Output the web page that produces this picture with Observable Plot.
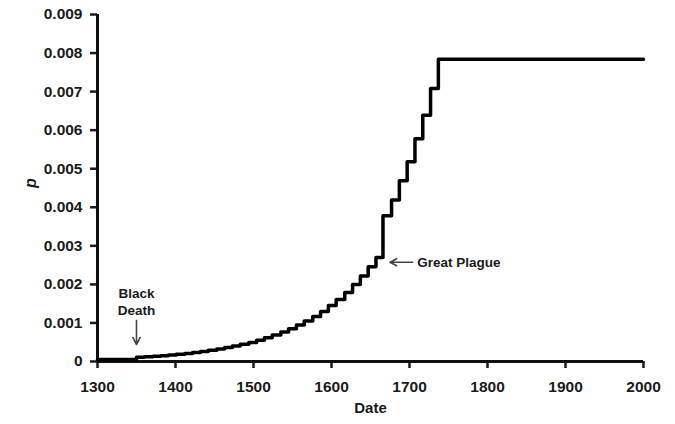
<!DOCTYPE html>
<html>
<head>
<meta charset="utf-8">
<script src="https://cdn.jsdelivr.net/npm/d3@7"></script>
<script src="https://cdn.jsdelivr.net/npm/@observablehq/plot@0.6"></script>
<style>
  html, body { margin: 0; padding: 0; background: #fff; }
  #chart svg { display: block; }
</style>
</head>
<body>
<div id="chart"></div>
<script>
// Step years (start of each step) and allele frequency p after each step
const stepYears = [1300,
  1350,1360,1371,1381,1391,1401,1412,1422,1432,1442,
  1453,1463,1473,1483,1494,1504,1514,1524,1535,1545,
  1555,1565,1576,1586,1596,1606,1617,1627,1637,1647,
  1657,1666,1677,1687,1697,1707,1717,1727,1737,2000];
const pValues = [0.00005,
  0.00011,0.000122,0.000136,0.000152,0.000169,0.000188,0.000209,0.000233,0.00026,0.00029,
  0.000323,0.00036,0.0004,0.000445,0.000496,0.000552,0.000615,0.000685,0.000763,0.00085,
  0.000945,0.00105,0.00117,0.0013,0.00145,0.00161,0.00179,0.002,0.00222,0.00246,
  0.0027,0.00378,0.00419,0.00469,0.00518,0.00578,0.00639,0.00708,0.00784,0.00784];
const xTicks = [1300,1400,1500,1600,1700,1800,1900,2000];
const yTicks = [0,0.001,0.002,0.003,0.004,0.005,0.006,0.007,0.008,0.009];

// Annotations (data units)
const annoLabels = ["Black\nDeath", "Great Plague"];
const annoTextX = [1350, 1710];
const annoTextY = [0.00157, 0.002575];
const arrowX1 = [1350, 1704];
const arrowY1 = [0.00106, 0.002575];
const arrowX2 = [1350, 1675];
const arrowY2 = [0.00044, 0.002575];

const data = stepYears.map((year, i) => ({year, p: pValues[i]}));
const annos = annoLabels.map((label, i) => ({label, x: annoTextX[i], y: annoTextY[i],
  x1: arrowX1[i], y1: arrowY1[i], x2: arrowX2[i], y2: arrowY2[i]}));

const font = "'Liberation Sans', Arial, Helvetica, sans-serif";
const fmtY = d => d === 0 ? "0" : d3.format(".3f")(d);
const fmtX = d => String(d);

const chart = Plot.plot({
  width: 675,
  height: 424,
  marginLeft: 97,
  marginRight: 32,
  marginTop: 14,
  marginBottom: 63,
  style: {fontFamily: font, fontSize: "15px", fontWeight: "bold", color: "#1a1a1a", background: "#fff"},
  x: {domain: [1300, 2000], ticks: xTicks},
  y: {domain: [0, 0.009], ticks: yTicks},
  marks: [
    Plot.axisX({ticks: xTicks, tickSize: 7, tickPadding: 12, strokeWidth: 2.5, fontSize: 15.5, fontWeight: "bold", tickFormat: fmtX, label: null}),
    Plot.axisY({ticks: yTicks, tickSize: 7, tickPadding: 8, strokeWidth: 2.5, fontSize: 15.5, fontWeight: "bold", tickFormat: fmtY, label: null}),
    Plot.ruleY([0], {stroke: "#111", strokeWidth: 3}),
    Plot.ruleX([1300], {stroke: "#111", strokeWidth: 3}),
    Plot.line(data, {x: "year", y: "p", curve: "step-after", stroke: "#000", strokeWidth: 3.5}),
    Plot.arrow(annos, {x1: "x1", y1: "y1", x2: "x2", y2: "y2", stroke: "#444", strokeWidth: 1.6, headLength: 9, headAngle: 55}),
    Plot.text(annos.slice(0, 1), {x: "x", y: "y", text: "label", fontSize: 13.5, fontWeight: "bold", lineHeight: 1.3, textAnchor: "middle", fill: "#1a1a1a"}),
    Plot.text(annos.slice(1), {x: "x", y: "y", text: "label", fontSize: 13.5, fontWeight: "bold", textAnchor: "start", fill: "#1a1a1a"}),
    Plot.text(["Date"], {frameAnchor: "bottom", dy: 51, fontSize: 15, fontWeight: "bold", fill: "#1a1a1a"}),
    Plot.text(["p"], {frameAnchor: "left", dx: -67, rotate: -90, fontSize: 16, fontWeight: "bold", fontStyle: "italic", fill: "#1a1a1a"})
  ]
});
document.getElementById("chart").appendChild(chart);
</script>
</body>
</html>
